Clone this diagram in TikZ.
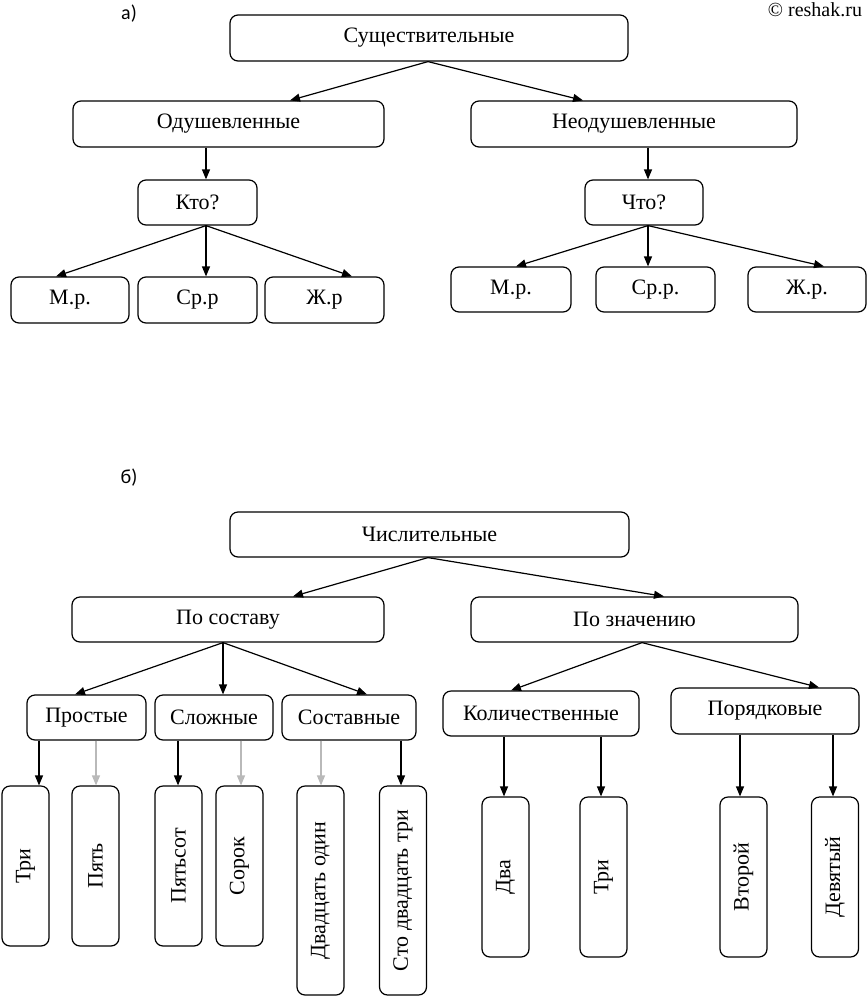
\documentclass[tikz,border=0pt]{standalone}
\usepackage{fontspec}
\setmainfont{Liberation Serif}
\newfontfamily\labelfont{Carlito}
\usetikzlibrary{arrows.meta}
\begin{document}
\begin{tikzpicture}[x=1pt,y=-1pt,
  box/.style={draw, line width=1.2pt, rounded corners=8pt, inner sep=0pt,
    font=\fontsize{22}{26}\selectfont},
  vbox/.style={box, minimum width=47pt, minimum height=160pt},
  arr/.style={line width=1.2pt, -{Triangle[length=10pt,width=8pt]}},
  garr/.style={arr, draw=gray!55, fill=gray!55},
  lbl/.style={font=\labelfont\fontsize{20}{24}\selectfont, inner sep=0pt}
]
\useasboundingbox (0,0) rectangle (868,997);

% labels
\node[lbl] (la) at (129,14) {а)};
\node[lbl] (lb) at (129,478) {б)};
\node[font=\fontsize{20}{24}\selectfont, inner sep=0pt] (copy) at (815,10) {© reshak.ru};

% ---------- part a ----------
\node[box, minimum width=398pt, minimum height=46pt] (sush) at (429,38) {Существительные};
\node[box, minimum width=311pt, minimum height=46pt] (od) at (228.5,124) {Одушевленные};
\node[box, minimum width=326pt, minimum height=46pt] (neod) at (634,124) {Неодушевленные};
\node[box, minimum width=119pt, minimum height=45pt] (kto) at (197.5,202.5) {Кто?};
\node[box, minimum width=118pt, minimum height=46pt] (m1) at (70,300) {М.р.};
\node[box, minimum width=119pt, minimum height=46pt] (s1) at (197.5,300) {Ср.р};
\node[box, minimum width=119pt, minimum height=46pt] (z1) at (324.5,300) {Ж.р};
\node[box, minimum width=118pt, minimum height=45pt] (chto) at (644,202.5) {Что?};
\node[box, minimum width=120pt, minimum height=45pt] (m2) at (511,289.5) {М.р.};
\node[box, minimum width=119pt, minimum height=45pt] (s2) at (655.5,289.5) {Ср.р.};
\node[box, minimum width=118pt, minimum height=45pt] (z2) at (807,289.5) {Ж.р.};

\draw[arr] ([xshift=-1pt]sush.south) -- ([xshift=61.5pt]od.north);
\draw[arr] ([xshift=-1pt]sush.south) -- ([xshift=-51pt]neod.north);
\draw[arr] ([xshift=8.5pt]kto.north |- od.south) -- ([xshift=8.5pt]kto.north);
\draw[arr] ([xshift=8.5pt]kto.south) -- ([xshift=-14pt]m1.north);
\draw[arr] ([xshift=8.5pt]kto.south) -- ([xshift=8.5pt]s1.north);
\draw[arr] ([xshift=8.5pt]kto.south) -- ([xshift=27.5pt]z1.north);
\draw[arr] ([xshift=4pt]chto.north |- neod.south) -- ([xshift=4pt]chto.north);
\draw[arr] ([xshift=4pt]chto.south) -- ([xshift=5pt]m2.north);
\draw[arr] ([xshift=4pt]chto.south) -- ([xshift=-7.5pt]s2.north);
\draw[arr] ([xshift=4pt]chto.south) -- ([xshift=17pt]z2.north);

% ---------- part b ----------
\node[box, minimum width=399pt, minimum height=45pt] (chisl) at (429.5,534.5) {Числительные};
\node[box, minimum width=312pt, minimum height=45pt] (sost) at (228,619.5) {По составу};
\node[box, minimum width=327pt, minimum height=45pt] (znach) at (634.5,619.5) {По значению};
\node[box, minimum width=119pt, minimum height=45pt] (prost) at (86.5,717.5) {Простые};
\node[box, minimum width=118pt, minimum height=45pt] (slozh) at (214,717.5) {Сложные};
\node[box, minimum width=134pt, minimum height=45pt] (sostav) at (349,717.5) {Составные};
\node[box, minimum width=196pt, minimum height=45pt] (kolich) at (541,713.5) {Количественные};
\node[box, minimum width=188pt, minimum height=46pt] (poryad) at (765,711) {Порядковые};

\node[vbox] (tri1) at (25.5,866) {\rotatebox{90}{Три}};
\node[vbox] (pyat) at (95.5,866) {\rotatebox{90}{Пять}};
\node[vbox] (pyatsot) at (178.5,866) {\rotatebox{90}{Пятьсот}};
\node[vbox] (sorok) at (239.5,866) {\rotatebox{90}{Сорок}};
\node[vbox, minimum height=209pt] (dvad) at (320.5,890.5) {\rotatebox{90}{Двадцать один}};
\node[vbox, minimum height=209pt] (sto) at (403,890.5) {\rotatebox{90}{Сто двадцать три}};
\node[vbox] (dva) at (505.5,877) {\rotatebox{90}{Два}};
\node[vbox] (tri2) at (603.5,877) {\rotatebox{90}{Три}};
\node[vbox] (vtor) at (743.5,877) {\rotatebox{90}{Второй}};
\node[vbox] (devyat) at (835,877) {\rotatebox{90}{Девятый}};

\draw[arr] ([xshift=-1.5pt]chisl.south) -- ([xshift=65pt]sost.north);
\draw[arr] ([xshift=-1.5pt]chisl.south) -- ([xshift=29.5pt]znach.north);
\draw[arr] ([xshift=-5pt]sost.south) -- ([xshift=-11.5pt]prost.north);
\draw[arr] ([xshift=-5pt]sost.south) -- ([xshift=9pt]slozh.north);
\draw[arr] ([xshift=-5pt]sost.south) -- ([xshift=18pt]sostav.north);
\draw[arr] ([xshift=7.5pt]znach.south) -- ([xshift=-30pt]kolich.north);
\draw[arr] ([xshift=7.5pt]znach.south) -- ([xshift=54pt]poryad.north);

\draw[arr] ([xshift=13.5pt]tri1.north |- prost.south) -- ([xshift=13.5pt]tri1.north);
\draw[garr] ([xshift=0.5pt]pyat.north |- prost.south) -- ([xshift=0.5pt]pyat.north);
\draw[arr] ([xshift=-0.5pt]pyatsot.north |- slozh.south) -- ([xshift=-0.5pt]pyatsot.north);
\draw[garr] ([xshift=1.5pt]sorok.north |- slozh.south) -- ([xshift=1.5pt]sorok.north);
\draw[garr] ([xshift=0.5pt]dvad.north |- sostav.south) -- ([xshift=0.5pt]dvad.north);
\draw[arr] ([xshift=-2pt]sto.north |- sostav.south) -- ([xshift=-2pt]sto.north);
\draw[arr] ([xshift=-1.5pt]dva.north |- kolich.south) -- ([xshift=-1.5pt]dva.north);
\draw[arr] ([xshift=-2.5pt]tri2.north |- kolich.south) -- ([xshift=-2.5pt]tri2.north);
\draw[arr] ([xshift=-3.5pt]vtor.north |- poryad.south) -- ([xshift=-3.5pt]vtor.north);
\draw[arr] ([xshift=-2pt]devyat.north |- poryad.south) -- ([xshift=-2pt]devyat.north);
\end{tikzpicture}
\end{document}
